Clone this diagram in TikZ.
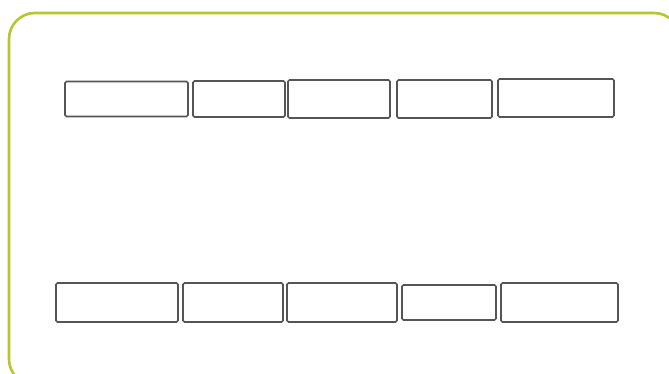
\documentclass[tikz,border=0pt]{standalone}
\begin{document}
\begin{tikzpicture}[x=1pt,y=-1pt,
  frame/.style={draw=framegreen,line width=2.6pt,rounded corners=26pt},
  slot/.style={draw=sketchgray,line width=1.7pt,rounded corners=1.5pt,inner sep=0pt,fill=white}]
\definecolor{framegreen}{HTML}{B6C72D}
\definecolor{sketchgray}{HTML}{555555}
\useasboundingbox (0,0) rectangle (669,374);
\clip (0,0) rectangle (669,374);
\fill[white] (0,0) rectangle (669,374);
\draw[frame] (9,13) rectangle (680,385);
% top row
\node[slot,minimum width=123pt,minimum height=35pt] (t1) at (126.5,99) {};
\node[slot,minimum width=92pt,minimum height=36pt] (t2) at (239,99) {};
\node[slot,minimum width=102pt,minimum height=38pt] (t3) at (339,99) {};
\node[slot,minimum width=95pt,minimum height=38pt] (t4) at (444.5,99) {};
\node[slot,minimum width=116pt,minimum height=38pt] (t5) at (556,98) {};
% bottom row
\node[slot,minimum width=122pt,minimum height=39pt] (b1) at (117,302.5) {};
\node[slot,minimum width=100pt,minimum height=39pt] (b2) at (233,302.5) {};
\node[slot,minimum width=110pt,minimum height=39pt] (b3) at (342,302.5) {};
\node[slot,minimum width=94pt,minimum height=35pt] (b4) at (449,302.5) {};
\node[slot,minimum width=117pt,minimum height=39pt] (b5) at (559.5,302.5) {};
\end{tikzpicture}
\end{document}
